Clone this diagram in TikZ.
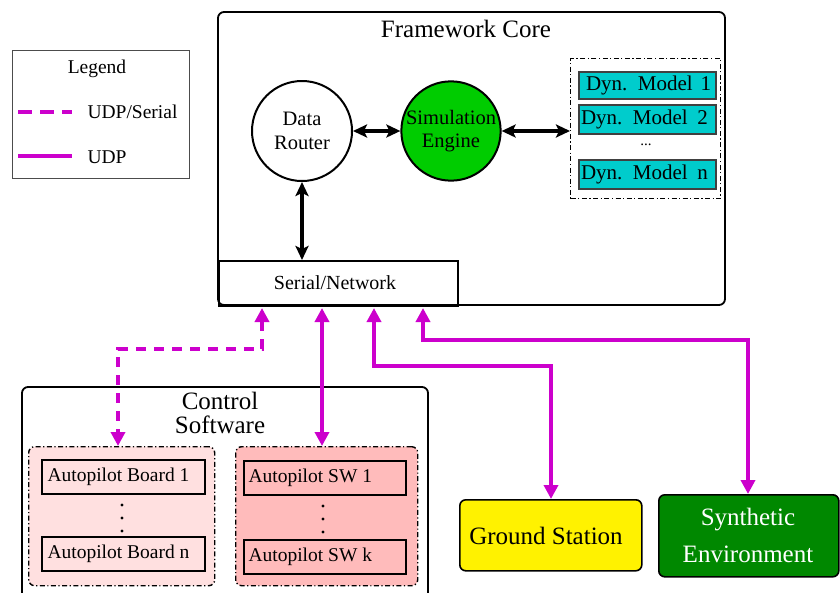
\documentclass[tikz,border=0pt]{standalone}
\usepackage{fontspec}
\setmainfont{Liberation Serif}
\usetikzlibrary{arrows.meta,calc}
\definecolor{simgreen}{RGB}{0,204,0}
\definecolor{envgreen}{RGB}{0,136,0}
\definecolor{dyncyan}{RGB}{0,204,204}
\definecolor{link}{RGB}{204,0,204}
\definecolor{boardpink}{RGB}{255,224,224}
\definecolor{swpink}{RGB}{255,187,187}
\newcommand{\fs}[1]{\fontsize{#1}{#1}\selectfont}
\tikzset{
  x=1pt, y=-1pt,
  frame/.style={draw=black, line width=1.8pt, rounded corners=6pt},
  grp/.style={draw=black, line width=1.4pt, rounded corners=6pt,
    dash pattern=on 5pt off 2.5pt on 1.2pt off 2.5pt},
  inbox/.style={draw=black, line width=1.8pt, inner sep=0pt},
  blackarr/.style={line width=3.3pt, {Stealth[length=14pt,width=13pt,inset=3pt]}-{Stealth[length=14pt,width=13pt,inset=3pt]}},
  udp/.style={draw=link, line width=4.2pt, shorten <=3pt, {Triangle[length=14pt,width=14pt]}-{Triangle[length=14pt,width=14pt]}},
  udpser/.style={udp, dash pattern=on 10pt off 8pt},
  dynbox/.style={draw=black!75, fill=dyncyan, line width=2pt, minimum width=137pt, minimum height=29pt,
    inner sep=0pt},
  dyntext/.style={font=\fs{21}},
}
\begin{document}
\begin{tikzpicture}
\useasboundingbox (0,0) rectangle (840,592);

% legend
\node[draw=black!70, line width=1.3pt, minimum width=177pt, minimum height=128pt, inner sep=0pt, anchor=north west] (legend) at (12,50) {};
\node[font=\fs{19.5}] (legtitle) at (97,69) {Legend};
\coordinate (ld1) at (18,112); \coordinate (ld2) at (72,112);
\draw[link, line width=4.2pt, dash pattern=on 14pt off 8pt] (ld1) -- (ld2);
\node[font=\fs{19.5}, anchor=west] (legser) at (84,112) {UDP/Serial};
\coordinate (ls1) at (18,156); \coordinate (ls2) at (72,156);
\draw[link, line width=4.2pt] (ls1) -- (ls2);
\node[font=\fs{19.5}, anchor=west] (legudp) at (84,157) {UDP};

% framework core
\draw[frame] (218,12) rectangle (725,305);
\node[font=\fs{25}] (fctitle) at (466,29) {Framework Core};
\node[draw=black, line width=2pt, circle, minimum size=100pt, inner sep=0pt, align=center, font=\fs{20.5}] (router) at (302,131) {Data\\[3pt]Router};
\node[draw=black, fill=simgreen, line width=2pt, circle, minimum size=97pt, inner sep=0pt, align=center, font=\fs{20.5}] (engine) at (451,131) {Simulation\\[3pt]Engine};
\node[grp, rounded corners=0pt, minimum width=150pt, minimum height=140pt, anchor=north west] (dyngrp) at (570,58) {};
\node[dynbox, anchor=north west, minimum height=27pt] (dyn1) at (578,71) {};
\node[dyntext] (dyn1t) at (dyn1) {\makebox[131pt][s]{\hspace{4pt}Dyn.\ \ Model\hfill 1\hspace{2pt}}};
\node[dynbox, anchor=north west] (dyn2) at (578,104) {};
\node[dyntext] (dyn2t) at (dyn2) {\makebox[133pt][s]{Dyn.\ \ Model\hfill 2\hspace{6pt}}};
\node[font=\fs{15}] (dyndots) at (646,145) {...};
\node[dynbox, anchor=north west] (dynn) at (578,159) {};
\node[dyntext] (dynnt) at (dynn) {\makebox[133pt][s]{Dyn.\ \ Model\hfill n\hspace{6pt}}};
\node[draw=black, line width=1.8pt, minimum width=239pt, minimum height=45pt, inner sep=0pt, anchor=north west] (serial) at (218,260) {};
\node[font=\fs{20}] (serialt) at (335,283) {Serial/Network};
\draw[blackarr] (router) -- (engine);
\draw[blackarr] (engine.east) -- (dyngrp.west |- engine.east);
\draw[blackarr] (router.south) -- (router.south |- serial.north);

% control software
\draw[frame] (22,600) -- (22,387) -- (428,387) -- (428,600);
\node[font=\fs{25}, align=center] (cstitle) at (220,413) {Control\\[-1pt]Software};
\node[grp, fill=boardpink, minimum width=186pt, minimum height=139pt, anchor=north west] (boards) at (28,446) {};
\node[inbox, minimum width=163pt, minimum height=34pt, anchor=north west] (b1) at (41,459) {};
\node[font=\fs{19.5}, anchor=west] (b1t) at (44,477) {Autopilot Board 1};
\node[inbox, minimum width=163pt, minimum height=34pt, anchor=north west] (bn) at (41,536) {};
\node[font=\fs{19.5}, anchor=west] (bnt) at (44,554) {Autopilot Board n};
\foreach \yy in {505,518,531} \fill (122,\yy) circle (1.7pt);
\node[grp, fill=swpink, minimum width=182pt, minimum height=139pt, anchor=north west] (sws) at (235,446) {};
\node[inbox, minimum width=162pt, minimum height=34pt, anchor=north west] (s1) at (243,460) {};
\node[font=\fs{19.5}, anchor=west] (s1t) at (245,478) {Autopilot SW 1};
\node[inbox, minimum width=162pt, minimum height=34pt, anchor=north west] (sk) at (243,539) {};
\node[font=\fs{19.5}, anchor=west] (skt) at (245,557) {Autopilot SW k};
\foreach \yy in {506,519,532} \fill (323,\yy) circle (1.7pt);

% external components
\node[draw=black, fill=yellow, line width=1.6pt, rounded corners=6pt, minimum width=182pt, minimum height=71pt, anchor=north west] (ground) at (459,499) {};
\node[font=\fs{25}] (groundt) at (546,536) {Ground Station};
\node[draw=black, fill=envgreen, line width=1.6pt, rounded corners=6pt, minimum width=180pt, minimum height=82pt, anchor=north west] (synth) at (658,494) {};
\node[font=\fs{25}, text=white, align=center] (syntht) at (748,535) {Synthetic\\[12pt]Environment};

% links
\coordinate (pa) at (262,305); \coordinate (pa1) at (262,349); \coordinate (pa2) at (118,349); \coordinate (pa3) at (118,446);
\draw[udpser] (pa) -- (pa1) -- (pa2) -- (pa3);
\coordinate (pb) at (322,305); \coordinate (pb1) at (322,446);
\draw[udp] (pb) -- (pb1);
\coordinate (pc) at (374,305);
\draw[udp] (pc) |- (551,366) -- (ground.north -| 551,0);
\coordinate (pd) at (423,305);
\draw[udp] (pd) |- (748,340) -- (synth.north -| 748,0);
\end{tikzpicture}
\end{document}
